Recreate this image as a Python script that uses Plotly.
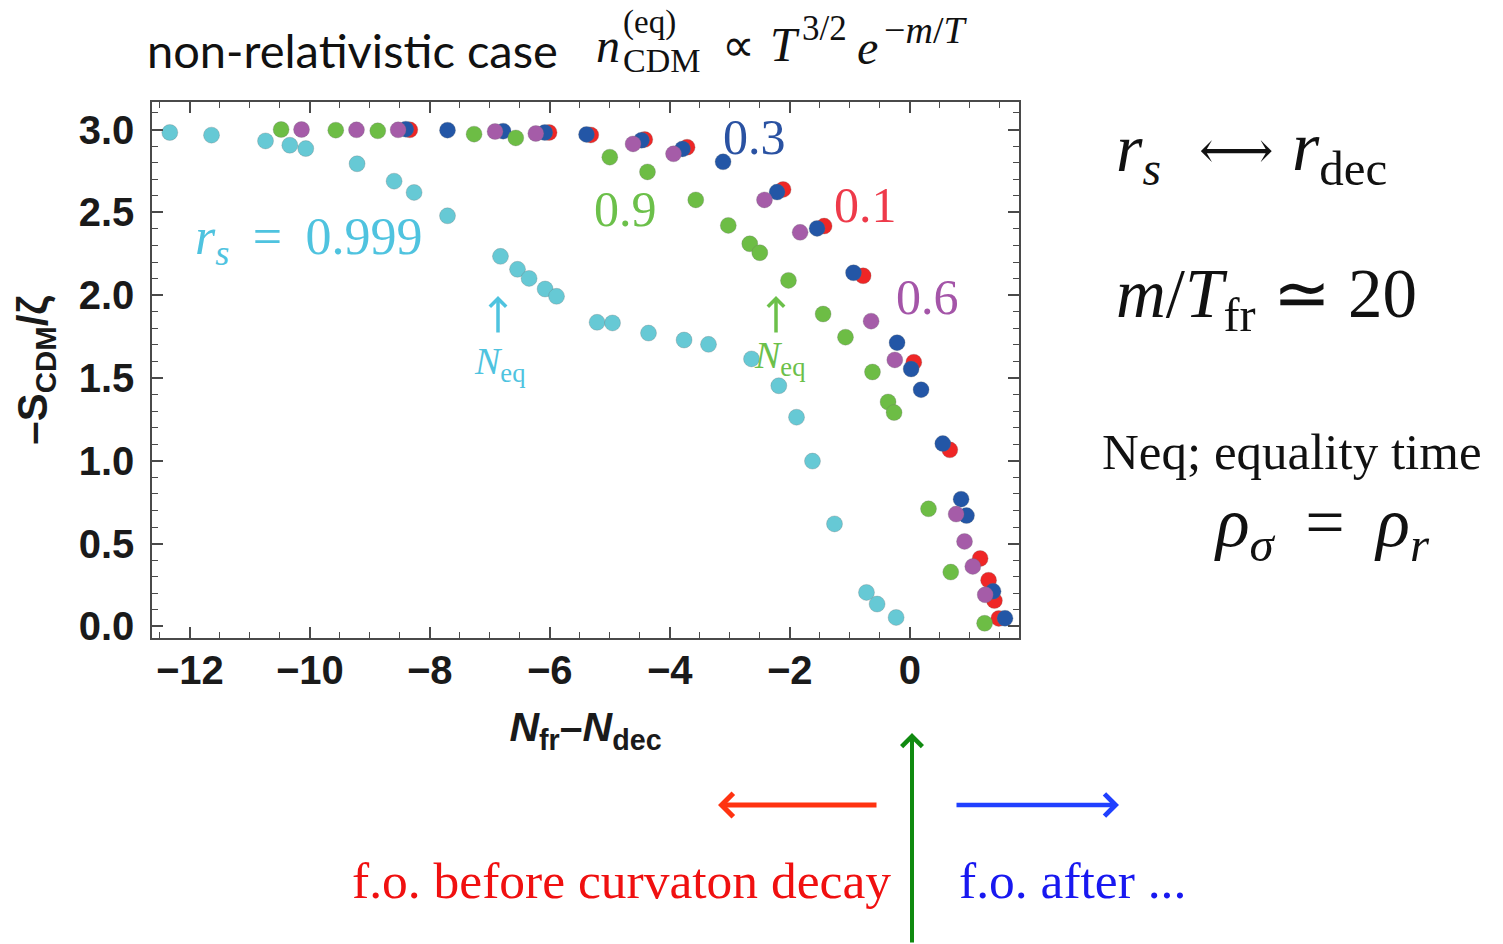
import plotly.graph_objects as go

# Entropy perturbation of CDM vs. freeze-out time relative to curvaton decay
# Series keyed by curvaton fraction r_s

x_r0999 = [-12.333, -11.638, -10.738, -10.333, -10.067, -9.212, -8.595, -8.262, -7.705,
           -6.822, -6.538, -6.345, -6.078, -5.888, -5.212, -4.955, -4.355, -3.762, -3.355,
           -2.638, -2.183, -1.888, -1.622, -1.255, -0.722, -0.545, -0.228]
y_r0999 = [2.982, 2.966, 2.931, 2.905, 2.885, 2.793, 2.688, 2.620, 2.479,
           2.234, 2.156, 2.101, 2.037, 1.993, 1.836, 1.832, 1.771, 1.729, 1.703,
           1.615, 1.453, 1.263, 0.998, 0.619, 0.205, 0.135, 0.054]

x_r09 = [-10.478, -9.567, -8.867, -7.262, -6.567, -5.000, -4.372, -3.567, -3.025, -2.667,
         -2.500, -2.022, -1.445, -1.072, -0.622, -0.362, -0.262, 0.312, 0.683, 1.247]
y_r09 = [3.000, 2.996, 2.992, 2.972, 2.949, 2.833, 2.744, 2.575, 2.421, 2.310,
         2.256, 2.089, 1.886, 1.746, 1.536, 1.355, 1.291, 0.710, 0.328, 0.019]

x_r06 = [-10.138, -9.222, -8.528, -6.912, -6.233, -4.612, -3.938, -2.422, -1.828, -0.645,
         -0.250, 0.772, 0.912, 1.050, 1.257]
y_r06 = [3.000, 2.998, 2.998, 2.988, 2.976, 2.913, 2.853, 2.575, 2.379, 1.843,
         1.609, 0.678, 0.513, 0.362, 0.191]

x_r03 = [-8.400, -7.705, -6.778, -6.083, -5.388, -4.472, -3.788, -3.112, -2.212, -1.545,
         -0.938, -0.212, 0.022, 0.188, 0.550, 0.855, 0.945, 1.388, 1.587]
y_r03 = [3.002, 2.996, 2.990, 2.982, 2.970, 2.935, 2.883, 2.805, 2.622, 2.403,
         2.135, 1.713, 1.554, 1.429, 1.104, 0.768, 0.669, 0.212, 0.049]

x_r01 = [-8.333, -6.012, -5.317, -4.417, -3.712, -2.112, -1.428, -0.778, 0.067, 0.667,
         1.172, 1.313, 1.410, 1.483]
y_r01 = [2.998, 2.982, 2.967, 2.940, 2.893, 2.638, 2.417, 2.117, 1.595, 1.066,
         0.410, 0.279, 0.156, 0.048]

x_ticks = [-12, -10, -8, -6, -4, -2, 0]
y_ticks = [0.0, 0.5, 1.0, 1.5, 2.0, 2.5, 3.0]

# canvas and plot-area geometry (pixels)
W, H = 1503, 944
L, R, T, B = 152, 1019, 102, 638


def px(x):
    return (x - L) / (R - L)


def py(y):
    return (B - y) / (B - T)


SERIF = "Liberation Serif"
SANS = "Liberation Sans"

C_CYAN, C_GREEN, C_PURPLE, C_BLUE, C_RED = "#66c9d5", "#6dbd45", "#a55ca8", "#2356a6", "#ef2626"

fig = go.Figure()
for xs, ys, col in [(x_r01, y_r01, C_RED), (x_r03, y_r03, C_BLUE), (x_r06, y_r06, C_PURPLE),
                    (x_r09, y_r09, C_GREEN), (x_r0999, y_r0999, C_CYAN)]:
    fig.add_trace(go.Scatter(
        x=xs, y=ys, mode="markers",
        marker=dict(size=16, color=col, line=dict(width=0.6, color="rgba(110,110,110,0.45)")),
        showlegend=False, hoverinfo="skip"))

axis_common = dict(
    showgrid=False, zeroline=False, showline=True, linecolor="#4a4a4a", linewidth=1.5,
    mirror="ticks", ticks="inside", ticklen=11, tickwidth=1.5, tickcolor="#4a4a4a",
    tickfont=dict(family=SANS, size=40, color="#1a1a1a", weight="bold"),
)

fig.update_xaxes(
    **axis_common, range=[-12.63, 1.82], tickvals=x_ticks,
    minor=dict(dtick=0.5, ticks="inside", ticklen=6, tickwidth=1.2, tickcolor="#4a4a4a"),
    title=dict(text="<b><i>N</i><sub>fr</sub>–<i>N</i><sub>dec</sub></b>",
               font=dict(family=SANS, size=41, color="#1a1a1a"), standoff=22),
    ticklabelstandoff=-4,
)
fig.update_yaxes(
    **axis_common, range=[-0.07, 3.166], tickvals=y_ticks, tickformat=".1f",
    minor=dict(dtick=0.1, ticks="inside", ticklen=6, tickwidth=1.2, tickcolor="#4a4a4a"),
    title=dict(text="<b>–S<sub>CDM</sub>/ζ</b>",
               font=dict(family=SANS, size=42, color="#1a1a1a"), standoff=18),
    ticklabelstandoff=8,
)

ann = []


def text(x, y, s, size, color="#111111", family=SERIF, xanchor="left"):
    ann.append(dict(x=px(x), y=py(y), xref="paper", yref="paper", text=s, showarrow=False,
                    xanchor=xanchor, yanchor="middle",
                    font=dict(family=family, size=size, color=color)))


def arrow(x_head, y_head, x_tail, y_tail, color, width, size=1.0, head=4):
    ann.append(dict(x=px(x_head), y=py(y_head), xref="paper", yref="paper", text="",
                    showarrow=True, arrowhead=head, arrowsize=size, arrowwidth=width,
                    arrowcolor=color, ax=x_tail - x_head, ay=y_tail - y_head,
                    axref="pixel", ayref="pixel"))


# heading
text(145, 50, "non-relativistic case", 47, "#111111", "Lato")
text(594, 46, "<i>n</i>", 48)
text(621, 22, "(eq)", 33)
text(621, 61, "CDM", 34)
text(720, 46, "∝", 46)
text(768, 44, "<i>T</i>", 48)
text(800, 28, "3/2", 35)
text(855, 48, "<i>e</i>", 48)
text(882, 30, "−<i>m</i>/<i>T</i>", 38)

# curve labels
text(193, 240, "<i>r<sub>s</sub></i> \u2009=\u2009 0.999", 52, "#4fc3df")
text(592, 209, "0.9", 50, "#6cc04a")
text(721, 137, "0.3", 50, "#2a52a2")
text(832, 205, "0.1", 50, "#ee3a4a")
text(894, 297, "0.6", 50, "#a455a8")

# equality-time markers
arrow(498, 296, 498, 334, "#4fc3df", 3.5, 0.9)
text(472, 364, "<i>N</i><sub>eq</sub>", 38, "#4fc3df")
arrow(776, 296, 776, 334, "#6cc04a", 3.5, 0.9)
text(752, 358, "<i>N</i><sub>eq</sub>", 38, "#6cc04a")

# side notes
text(1114, 152, "<i>r<sub>s</sub></i>", 68)
text(1197, 150, "⟷", 52, family="DejaVu Serif")
text(1290, 152, "<i>r</i><sub>dec</sub>", 70)
text(1114, 298, "<i>m</i>/<i>T</i><sub>fr</sub> ≃ 20", 69)
text(1100, 452, "Neq; equality time", 51)
text(1212, 528, "<i>ρ<sub>σ</sub></i> \u2009=\u2009 <i>ρ<sub>r</sub></i>", 70)

# freeze-out direction arrows
arrow(718, 805, 878, 805, "#ff3311", 5, 0.9)
arrow(1119, 805, 955, 805, "#2040ff", 4.5, 0.95)
arrow(912, 733, 912, 950, "#108a10", 4, 1.0)
text(350, 880, "f.o. before curvaton decay", 51.5, "#f01010")
text(957, 880, "f.o. after ...", 51.5, "#1818f0")

fig.update_layout(
    width=W, height=H, margin=dict(l=L, r=W - R, t=T, b=H - B),
    paper_bgcolor="white", plot_bgcolor="white", annotations=ann,
)

fig.write_html("out.html")
